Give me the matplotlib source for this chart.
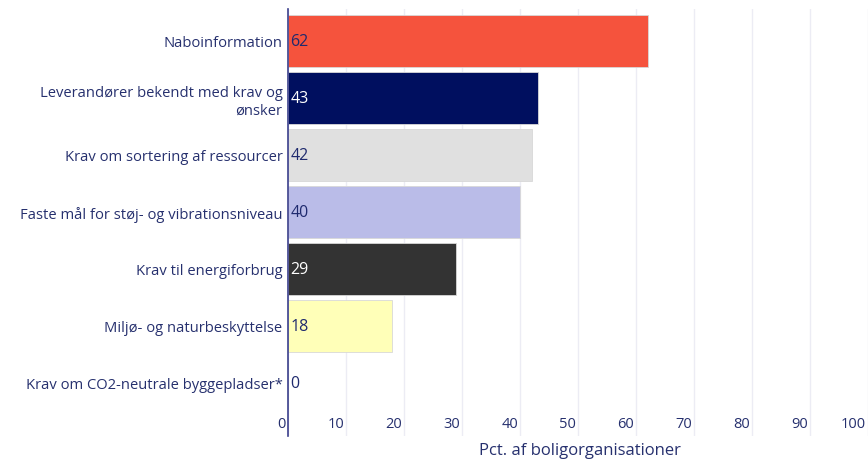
import matplotlib
matplotlib.use("Agg")
import matplotlib.pyplot as plt
import matplotlib.transforms as mtransforms

plt.rcParams['font.family'] = ['Open Sans', 'DejaVu Sans']

categories = ["Naboinformation", "Leverandører bekendt med krav og\nønsker",
              "Krav om sortering af ressourcer", "Faste mål for støj- og vibrationsniveau",
              "Krav til energiforbrug", "Miljø- og naturbeskyttelse",
              "Krav om CO2-neutrale byggepladser*"]
values = [62, 43, 42, 40, 29, 18, 0]
colors = ["#F5533D", "#000F5F", "#E0E0E0", "#BABCE8", "#333333", "#FFFFB8", "#FFFFFF"]
label_colors = ["#1F2A6E", "#FFFFFF", "#1F2A6E", "#1F2A6E", "#FFFFFF", "#1F2A6E", "#1F2A6E"]
xticks = [0, 10, 20, 30, 40, 50, 60, 70, 80, 90, 100]

navy = "#26306E"

fig = plt.figure(figsize=(8.68, 4.6), dpi=100)
ax = fig.add_axes([288/868, 1-437/460, (870-288)/868, (437-10)/460])

ypos = list(range(len(categories)))
ax.barh(ypos, values, height=0.9, color=colors, edgecolor="#D8D8D8", linewidth=0.6, zorder=2)
ax.set_ylim(6.93, -0.56)
ax.set_xlim(0, 100.3)

for y, v, c in zip(ypos, values, label_colors):
    ax.text(0.4, y, str(v), color=c, fontsize=11.5, va="center", ha="left", zorder=3)

ax.set_yticks(ypos)
ax.set_yticklabels(categories, fontsize=10.6, color=navy, linespacing=1.25)
ax.tick_params(axis="y", length=0, pad=4)

ax.set_xticks(xticks)
ax.set_xticklabels([])
ax.tick_params(axis="x", length=0)
ax.grid(axis="x", color="#ECECF4", linewidth=1, zorder=0)
trans = mtransforms.blended_transform_factory(ax.transData, ax.transAxes)
for t in xticks:
    ax.text(t - 0.35, 0.012, str(t), transform=trans, ha="right", va="bottom",
            fontsize=10.5, color=navy, clip_on=False)

for s in ["top", "right", "bottom"]:
    ax.spines[s].set_visible(False)
ax.spines["left"].set_color("#3B3F8C")
ax.spines["left"].set_linewidth(1.2)

fig.text(580/868, 1-451/460, "Pct. af boligorganisationer", ha="center", va="center",
         fontsize=12, color=navy)

fig.savefig("out.png", dpi=100)
